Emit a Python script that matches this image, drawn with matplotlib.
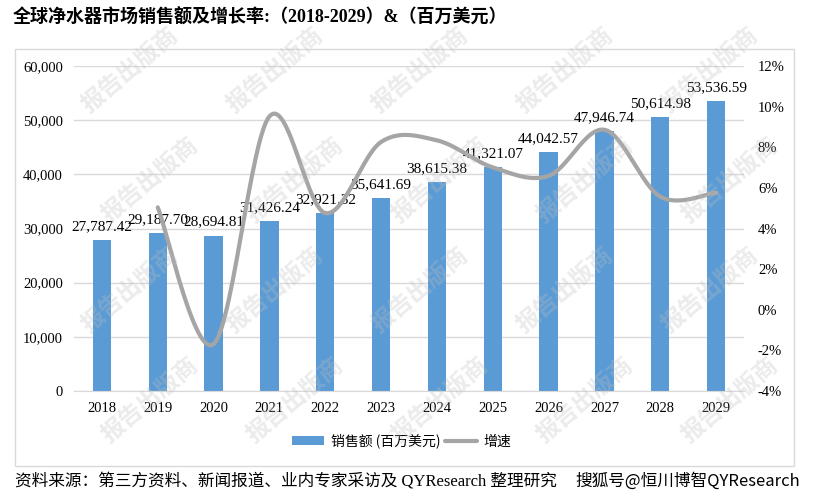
import numpy as np
import matplotlib.pyplot as plt
from matplotlib.patches import Rectangle

years = ["2018", "2019", "2020", "2021", "2022", "2023",
         "2024", "2025", "2026", "2027", "2028", "2029"]
sales = [27787.42, 29187.70, 28694.81, 31426.24, 32921.32, 35641.69,
         38615.38, 41321.07, 44042.57, 47946.74, 50614.98, 53536.59]
# growth (%) from 2019 on
growth_years = years[1:]
growth = [5.04, -1.69, 9.52, 4.76, 8.26, 8.34, 7.01, 6.59, 8.86, 5.57, 5.77]

left_ticks = [0, 10000, 20000, 30000, 40000, 50000, 60000]
right_ticks = [-4, -2, 0, 2, 4, 6, 8, 10, 12]

title = "全球净水器市场销售额及增长率:（2018-2029）&（百万美元）"
source = "资料来源：第三方资料、新闻报道、业内专家采访及 QYResearch 整理研究"
mark = "搜狐号@恒川博智QYResearch"

SERIF = ["Liberation Serif", "Noto Sans CJK SC"]
SANS = ["Noto Sans CJK SC", "DejaVu Sans"]


def smooth(xs, ys, n=30):
    # catmull-rom style curve like excel's smoothed line
    xs = np.asarray(xs, float)
    ys = np.asarray(ys, float)
    px = np.concatenate([[xs[0]], xs, [xs[-1]]])
    py = np.concatenate([[ys[0]], ys, [ys[-1]]])
    ox, oy = [], []
    t = np.linspace(0, 1, n)
    for i in range(1, len(px) - 2):
        p0 = np.array([px[i], py[i]])
        p3 = np.array([px[i + 1], py[i + 1]])
        c1 = p0 + (p3 - np.array([px[i - 1], py[i - 1]])) / 6
        c2 = p3 - (np.array([px[i + 2], py[i + 2]]) - p0) / 6
        b = ((1 - t) ** 3)[:, None] * p0 + (3 * (1 - t) ** 2 * t)[:, None] * c1 \
            + (3 * (1 - t) * t ** 2)[:, None] * c2 + (t ** 3)[:, None] * p3
        ox.extend(b[:, 0])
        oy.extend(b[:, 1])
    return ox, oy


fig = plt.figure(figsize=(8.13, 4.96), dpi=100)
W, H = 813, 496

# outer frame
fig.patches.append(Rectangle((15 / W, 1 - 466 / H), 779 / W, 417 / H,
                             transform=fig.transFigure, fill=False,
                             edgecolor="#d9d9d9", linewidth=1))

ax = fig.add_axes([74 / W, 1 - 391 / H, 670 / W, 325 / H])
ax2 = ax.twinx()

x = np.arange(len(years))
ax.bar(x, sales, width=0.33, color="#5B9BD5", zorder=2, label="销售额 (百万美元)")
for xi, v in zip(x, sales):
    ax.annotate(f"{v:,.2f}", (xi, v), xytext=(0, 5), textcoords="offset points",
                ha="center", va="bottom", fontsize=11, family=SERIF)

ax.set_xlim(-0.5, len(years) - 0.5)
ax.set_ylim(0, 60000)
ax.set_yticks(left_ticks)
ax.set_yticklabels([f"{t:,}" for t in left_ticks], family=SERIF, fontsize=10.5)
ax.set_xticks(x)
ax.set_xticklabels(years, family=SERIF, fontsize=10.5)
ax.tick_params(axis="y", length=0, pad=8)
ax.tick_params(axis="x", length=0, pad=8)
ax.grid(axis="y", color="#d9d9d9", linewidth=1, zorder=0)
ax.set_axisbelow(True)
for s in ["top", "right", "left"]:
    ax.spines[s].set_visible(False)
ax.spines["bottom"].set_color("#d9d9d9")

gx = [years.index(y) for y in growth_years]
sx, sy = smooth(gx, growth)
ax2.plot(sx, sy, color="#A5A5A5", linewidth=3, solid_capstyle="round",
         label="增速", zorder=3)
ax2.set_ylim(-4, 12)
ax2.set_yticks(right_ticks)
ax2.set_yticklabels([f"{t}%" for t in right_ticks], family=SERIF, fontsize=10.5)
ax2.tick_params(axis="y", length=0, pad=10)
for s in ax2.spines.values():
    s.set_visible(False)

h1, l1 = ax.get_legend_handles_labels()
h2, l2 = ax2.get_legend_handles_labels()
fig.legend(h1 + h2, l1 + l2, loc="center", bbox_to_anchor=(402 / W, 1 - 441 / H),
           ncol=2, frameon=False, prop={"family": SANS, "size": 10},
           handlelength=2.3, handletextpad=0.5, columnspacing=0.3)

# faint watermarks
for row, yy in enumerate([70, 180, 290, 400]):
    for xx in [130, 275, 420, 565, 710]:
        fig.text((xx + (row % 2) * 20) / W, 1 - yy / H, "报告出版商", rotation=40,
                 ha="center", va="center", fontsize=17, fontweight="bold",
                 family=SANS, color="#bfbfbf", alpha=0.3, zorder=10)

fig.text(13 / W, 1 - 18 / H, title, ha="left", va="center", fontsize=13,
         fontweight="bold", family=SERIF)
fig.text(15 / W, 1 - 481 / H, source, ha="left", va="center", fontsize=12,
         family=SERIF)
fig.text(800 / W, 1 - 481 / H, mark, ha="right", va="center", fontsize=12,
         family=SANS)

fig.savefig("out.png", dpi=100)
